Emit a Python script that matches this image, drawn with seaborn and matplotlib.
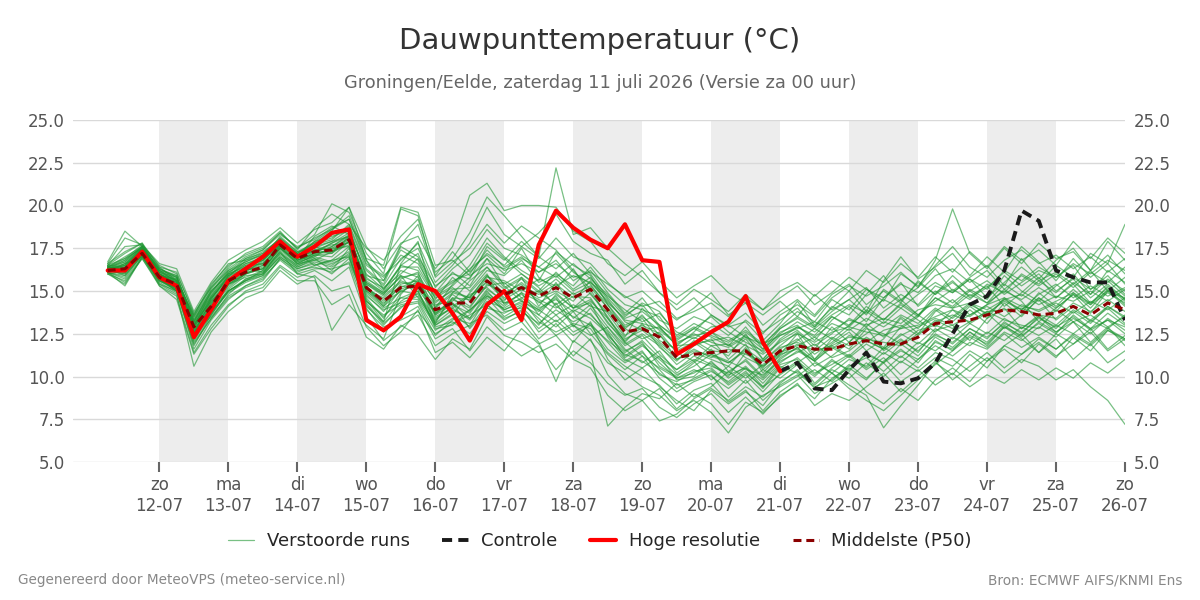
import numpy as np
import pandas as pd
import matplotlib
matplotlib.use('Agg')
import matplotlib.pyplot as plt
from matplotlib.lines import Line2D
from matplotlib.ticker import FormatStrFormatter
import seaborn as sns

# 6-hourly forecast steps
times = pd.date_range('2026-07-11 06:00', periods=60, freq='6h')

# Hoge resolutie (first 40 steps)
hres = [16.2, 16.2, 17.3, 15.8, 15.3, 12.3, 13.9, 15.6, 16.3, 17.0,
        17.9, 17.0, 17.6, 18.4, 18.6, 13.3, 12.7, 13.5, 15.4, 15.0,
        13.7, 12.1, 14.2, 15.0, 13.3, 17.7, 19.7, 18.7, 18.0, 17.5,
        18.9, 16.8, 16.7, 11.3, 11.9, 12.6, 13.2, 14.7, 12.0, 10.3]

# Controle (continues where hres stops)
control_start = 39
control = [10.3, 10.8, 9.3, 9.2, 10.4, 11.4, 9.7, 9.6, 9.9, 10.8,
           12.5, 14.2, 14.7, 16.2, 19.7, 19.1, 16.2, 15.8, 15.5, 15.5, 13.3]

# Middelste (P50)
median = [16.2, 16.3, 17.2, 15.8, 15.4, 12.9, 14.1, 15.6, 16.1, 16.4,
          17.7, 16.9, 17.3, 17.4, 18.0, 15.2, 14.4, 15.2, 15.3, 13.9,
          14.3, 14.3, 15.6, 14.8, 15.2, 14.7, 15.2, 14.6, 15.1, 13.9,
          12.6, 12.8, 12.3, 11.1, 11.3, 11.4, 11.5, 11.5, 10.7, 11.5,
          11.8, 11.6, 11.6, 11.9, 12.1, 11.9, 11.9, 12.3, 13.1, 13.2,
          13.3, 13.6, 13.9, 13.8, 13.6, 13.7, 14.1, 13.6, 14.3, 13.9]

# Verstoorde runs
members = [
    [16.4, 16.9, 17.5, 16.1, 15.6, 12.5, 14.5, 15.9, 16.6, 17.0, 17.9, 17.2, 17.8, 18.5, 19.9, 16.8, 15.1, 16.5, 17.2, 14.8,
     15.5, 16.2, 17.8, 16.9, 16.0, 15.2, 14.1, 13.5, 13.0, 12.1, 11.3, 10.9, 10.2, 9.5, 9.8, 10.3, 9.7, 10.5, 9.4, 10.1,
     10.8, 11.5, 12.3, 11.8, 12.5, 13.2, 12.8, 13.5, 14.6, 14.1, 15.0, 15.6, 14.8, 15.5, 16.2, 15.8, 16.5, 15.1, 15.9, 14.8],
    [16.1, 15.3, 17.0, 15.5, 14.9, 11.9, 13.4, 14.6, 15.2, 15.6, 16.9, 16.1, 16.5, 16.8, 17.0, 14.0, 12.6, 13.5, 14.1, 12.2,
     12.8, 11.5, 12.9, 12.0, 11.2, 11.8, 10.4, 11.5, 10.8, 9.6, 8.9, 9.3, 8.2, 7.6, 8.4, 9.0, 7.9, 8.8, 7.8, 8.9,
     9.5, 8.7, 9.9, 10.5, 9.8, 10.9, 11.6, 10.8, 12.1, 11.5, 12.6, 11.8, 12.9, 12.2, 11.4, 12.5, 11.9, 12.8, 11.6, 12.4],
    [16.6, 18.1, 17.7, 16.5, 16.0, 13.7, 15.2, 16.4, 17.2, 17.6, 18.5, 17.4, 18.7, 19.5, 18.9, 17.5, 16.8, 18.2, 19.2, 16.1,
     16.9, 18.4, 20.5, 19.4, 18.2, 17.0, 16.3, 17.2, 16.0, 14.6, 13.5, 14.3, 13.8, 12.4, 13.1, 12.6, 11.8, 12.9, 11.6, 12.8,
     13.5, 12.9, 14.1, 13.6, 14.8, 15.9, 14.5, 15.2, 16.3, 15.0, 15.8, 16.5, 15.3, 16.9, 15.7, 16.8, 17.5, 16.2, 17.1, 16.0],
    [16.0, 16.2, 17.4, 15.7, 15.1, 12.2, 14.0, 15.2, 16.0, 16.5, 17.6, 16.6, 17.1, 17.0, 17.9, 15.5, 14.8, 15.9, 14.6, 13.2,
     14.6, 13.8, 15.1, 14.4, 15.8, 14.1, 15.5, 14.0, 14.9, 13.5, 12.0, 13.1, 11.7, 10.9, 11.8, 12.2, 11.0, 11.9, 10.2, 11.3,
     12.5, 11.0, 11.9, 12.6, 11.5, 12.2, 13.4, 12.5, 13.8, 14.5, 13.6, 14.2, 15.1, 14.4, 13.2, 14.0, 14.8, 13.7, 15.0, 14.1],
    [16.3, 15.9, 17.1, 15.3, 14.5, 11.3, 12.8, 14.1, 15.0, 15.4, 16.5, 15.8, 16.2, 15.6, 16.4, 13.5, 12.1, 12.9, 13.6, 11.8,
     12.5, 13.0, 14.6, 13.5, 14.1, 13.0, 14.3, 12.9, 14.0, 12.7, 11.5, 12.0, 10.6, 10.0, 10.8, 11.6, 10.3, 10.9, 9.9, 11.0,
     11.7, 10.6, 11.2, 12.0, 12.9, 11.5, 12.2, 11.4, 12.7, 13.0, 12.1, 13.4, 14.0, 12.8, 13.5, 12.6, 13.2, 12.0, 12.9, 11.8],
    [16.2, 16.5, 17.6, 16.3, 15.8, 13.3, 14.8, 16.1, 16.6, 16.9, 18.2, 17.3, 17.5, 17.9, 18.6, 15.9, 15.6, 17.4, 16.8, 14.5,
     15.8, 15.0, 16.2, 15.9, 16.8, 15.5, 16.0, 15.3, 16.4, 15.1, 14.2, 13.9, 13.5, 12.1, 12.8, 13.5, 12.6, 12.0, 11.5, 12.6,
     13.0, 12.1, 13.3, 14.1, 13.2, 14.6, 15.5, 14.1, 15.0, 14.3, 15.1, 14.5, 15.9, 15.0, 14.4, 15.3, 16.0, 14.8, 16.2, 15.5],
    [16.4, 16.1, 17.2, 15.9, 15.3, 12.7, 14.3, 15.5, 16.3, 16.1, 17.3, 16.5, 16.9, 16.2, 17.5, 14.6, 13.4, 14.9, 15.6, 13.0,
     13.6, 14.9, 16.0, 14.2, 14.9, 13.6, 12.9, 13.8, 12.5, 11.3, 10.4, 11.2, 9.9, 9.1, 9.7, 10.1, 8.8, 9.8, 8.6, 9.5,
     10.1, 9.0, 9.6, 10.2, 9.1, 8.4, 9.3, 8.6, 9.8, 10.5, 9.7, 10.9, 11.6, 10.8, 11.9, 11.1, 12.3, 11.5, 12.7, 12.1],
    [16.5, 17.2, 17.8, 16.0, 15.5, 13.0, 14.6, 15.8, 16.8, 17.3, 18.0, 16.9, 18.2, 18.8, 18.3, 16.2, 15.3, 16.9, 17.5, 15.2,
     16.3, 17.1, 18.6, 17.5, 17.1, 16.4, 17.2, 16.1, 15.4, 14.0, 12.9, 13.4, 12.1, 11.6, 12.3, 11.8, 11.2, 12.5, 11.0, 12.2,
     12.9, 12.4, 13.5, 13.0, 14.1, 13.3, 14.2, 13.5, 14.9, 15.6, 14.6, 15.2, 16.1, 15.3, 16.0, 15.0, 15.7, 14.6, 15.4, 14.5],
    [16.2, 16.0, 17.3, 15.6, 15.2, 12.5, 13.9, 15.4, 15.8, 16.2, 17.5, 16.7, 17.0, 17.6, 18.2, 14.9, 14.0, 14.6, 15.0, 12.9,
     13.2, 12.5, 13.8, 13.1, 13.6, 12.2, 13.1, 12.0, 13.2, 11.0, 9.8, 10.5, 9.4, 8.6, 8.0, 9.2, 8.4, 9.1, 8.3, 9.6,
     10.4, 9.3, 10.2, 9.5, 8.9, 7.0, 8.3, 9.5, 10.8, 10.1, 11.3, 10.5, 11.8, 12.5, 11.4, 12.2, 11.0, 11.9, 10.8, 11.5],
    [16.1, 16.6, 17.0, 15.9, 15.7, 13.5, 15.0, 16.0, 16.4, 16.8, 17.8, 17.1, 17.6, 17.3, 18.1, 15.6, 14.9, 16.2, 15.8, 14.4,
     15.0, 14.6, 15.9, 14.8, 15.5, 14.6, 15.0, 14.4, 15.6, 14.3, 13.4, 13.8, 13.0, 12.3, 12.9, 12.4, 12.0, 12.6, 11.8, 12.9,
     13.8, 13.2, 14.5, 13.9, 15.1, 14.4, 16.0, 15.3, 16.5, 17.6, 16.4, 15.8, 16.8, 17.4, 16.6, 17.1, 16.3, 17.0, 16.1, 16.9],
    [16.3, 16.4, 17.4, 15.4, 15.0, 11.8, 13.6, 15.0, 15.6, 16.0, 17.0, 16.3, 16.6, 16.0, 16.9, 14.3, 13.1, 14.0, 14.9, 13.4,
     14.0, 13.3, 14.4, 14.0, 14.6, 13.9, 14.7, 13.4, 14.2, 12.9, 11.8, 12.4, 11.3, 10.4, 11.2, 10.7, 10.0, 11.4, 10.5, 11.6,
     12.2, 11.3, 12.0, 12.8, 12.0, 12.7, 13.0, 12.4, 13.3, 12.8, 13.9, 13.1, 14.3, 13.5, 14.6, 13.8, 14.9, 14.0, 15.1, 14.2],
    [16.7, 18.5, 17.6, 16.2, 15.9, 13.2, 15.1, 16.3, 17.0, 17.4, 18.4, 17.5, 18.3, 20.1, 19.6, 17.2, 16.0, 19.8, 19.4, 15.9,
     17.3, 16.1, 17.2, 16.5, 17.6, 16.9, 18.1, 17.0, 16.6, 15.5, 14.6, 15.0, 14.1, 13.3, 14.0, 14.9, 13.6, 14.3, 13.0, 13.8,
     14.5, 13.6, 14.8, 15.4, 14.2, 15.0, 14.3, 15.6, 14.8, 15.5, 14.7, 15.3, 14.1, 14.9, 15.8, 14.6, 15.4, 14.3, 15.2, 14.4],
    [16.2, 16.3, 17.2, 15.8, 15.3, 12.9, 14.2, 15.6, 16.2, 16.5, 17.7, 17.0, 17.4, 17.7, 17.8, 15.1, 14.6, 15.5, 15.3, 14.0,
     14.8, 14.1, 15.3, 15.5, 14.6, 15.0, 14.2, 14.9, 14.1, 13.8, 12.8, 12.2, 12.6, 11.4, 10.9, 11.8, 11.9, 11.1, 10.6, 11.4,
     11.8, 12.3, 11.6, 12.4, 12.1, 11.6, 12.4, 12.9, 13.4, 13.0, 13.6, 14.1, 13.5, 14.2, 13.8, 14.3, 13.7, 14.4, 13.9, 14.6],
    [16.0, 15.6, 16.9, 15.4, 14.8, 10.6, 12.6, 13.8, 14.6, 15.0, 16.2, 15.4, 15.9, 15.0, 15.3, 12.9, 11.8, 12.6, 13.9, 11.4,
     12.0, 11.1, 12.3, 11.5, 12.8, 11.9, 12.4, 11.2, 12.2, 10.1, 9.0, 8.6, 9.3, 8.1, 9.0, 8.4, 7.2, 8.5, 7.9, 8.8,
     9.6, 8.3, 9.0, 8.6, 9.4, 10.2, 9.1, 10.0, 10.9, 9.8, 10.6, 11.4, 10.5, 11.3, 12.0, 11.2, 11.9, 12.6, 11.5, 12.2],
    [16.4, 16.2, 17.5, 16.0, 15.4, 13.1, 14.4, 15.7, 16.2, 16.7, 17.9, 16.8, 17.2, 17.8, 18.4, 15.3, 14.2, 15.7, 16.1, 13.6,
     14.6, 14.5, 15.6, 14.6, 15.3, 14.8, 15.4, 14.6, 15.2, 14.0, 12.4, 13.0, 12.5, 11.0, 11.6, 11.1, 11.6, 11.3, 10.9, 11.7,
     12.0, 11.5, 11.8, 12.3, 12.2, 12.0, 11.8, 12.5, 13.2, 13.6, 13.2, 13.8, 13.9, 14.0, 13.6, 13.4, 14.3, 13.8, 14.5, 13.8],
    [16.3, 16.8, 17.6, 16.3, 15.9, 12.9, 15.0, 16.0, 16.9, 17.2, 18.1, 17.2, 17.7, 18.0, 18.9, 16.5, 15.8, 17.1, 16.6, 14.9,
     16.1, 15.3, 16.9, 16.0, 17.5, 15.8, 15.1, 16.3, 14.8, 13.7, 12.3, 14.0, 12.9, 11.8, 12.6, 13.6, 12.9, 13.2, 12.1, 13.1,
     14.4, 13.0, 14.0, 15.0, 13.8, 15.6, 17.0, 15.7, 16.4, 17.2, 15.9, 17.0, 16.1, 17.6, 16.7, 15.6, 16.9, 15.8, 16.6, 15.4],
    [16.1, 15.8, 17.1, 15.7, 15.0, 12.3, 13.8, 14.9, 15.5, 15.9, 17.1, 16.4, 16.8, 16.5, 17.2, 14.7, 13.9, 14.3, 14.7, 13.1,
     13.9, 13.4, 14.9, 14.1, 14.9, 14.4, 13.6, 14.2, 13.6, 12.6, 11.1, 11.8, 11.0, 10.1, 10.6, 11.3, 10.9, 10.4, 10.1, 10.9,
     11.4, 11.9, 11.1, 11.5, 12.3, 11.7, 12.9, 13.6, 12.9, 13.9, 13.1, 13.7, 12.8, 13.6, 14.5, 13.3, 14.1, 13.2, 14.0, 13.1],
    [16.5, 16.9, 17.7, 16.4, 15.6, 13.4, 14.9, 16.2, 16.9, 17.4, 18.3, 17.6, 18.0, 18.7, 19.2, 16.6, 15.9, 16.8, 17.8, 15.5,
     16.5, 17.8, 19.9, 18.3, 17.6, 18.4, 19.5, 17.9, 17.2, 16.8, 15.4, 16.2, 14.9, 14.2, 15.1, 14.5, 13.8, 14.8, 13.9, 14.6,
     15.3, 14.2, 14.9, 15.8, 15.1, 14.6, 15.4, 14.9, 15.9, 16.3, 15.5, 16.2, 15.1, 15.9, 15.3, 16.0, 15.2, 16.1, 15.5, 16.4],
    [16.2, 16.4, 17.3, 15.9, 15.4, 12.7, 14.1, 15.3, 16.0, 16.3, 17.5, 16.6, 17.1, 17.5, 17.6, 15.0, 14.3, 15.0, 14.8, 13.3,
     14.1, 14.8, 15.2, 14.3, 14.5, 13.2, 12.6, 13.1, 12.8, 11.4, 10.6, 10.0, 9.5, 8.4, 9.2, 9.6, 8.5, 9.2, 8.0, 9.1,
     9.8, 10.4, 9.7, 10.6, 11.1, 10.3, 11.2, 10.5, 11.4, 11.0, 10.3, 11.1, 10.2, 11.0, 10.6, 9.8, 10.4, 9.4, 8.6, 7.2],
    [16.3, 16.6, 17.5, 16.2, 15.5, 12.8, 14.6, 15.7, 16.4, 16.6, 17.6, 16.9, 17.4, 17.2, 18.2, 15.4, 14.8, 15.9, 15.5, 14.2,
     14.4, 15.6, 16.4, 15.2, 15.8, 15.0, 16.1, 15.1, 15.8, 14.5, 13.2, 12.7, 12.9, 11.8, 11.9, 12.1, 12.3, 11.8, 11.3, 12.0,
     12.5, 12.0, 12.6, 12.9, 12.6, 12.4, 12.8, 13.0, 13.5, 13.9, 13.5, 14.2, 14.6, 14.1, 13.9, 14.4, 14.9, 14.3, 15.0, 14.6],
    [16.0, 15.4, 17.0, 15.6, 15.1, 11.6, 13.3, 14.5, 15.3, 15.8, 16.8, 16.0, 16.3, 16.3, 16.6, 13.9, 12.9, 13.3, 13.8, 12.5,
     13.1, 13.6, 14.2, 13.3, 13.9, 12.8, 13.6, 12.6, 13.1, 12.0, 10.9, 11.5, 10.1, 9.7, 10.3, 10.5, 9.6, 10.3, 9.3, 10.5,
     11.1, 10.2, 10.7, 11.3, 10.5, 11.4, 10.8, 11.7, 12.4, 12.0, 12.8, 12.3, 13.1, 12.6, 13.4, 12.9, 13.5, 12.7, 13.3, 12.9],
    [16.4, 16.7, 17.6, 16.1, 15.6, 13.6, 15.3, 16.6, 16.8, 17.1, 18.0, 17.0, 17.9, 18.2, 18.5, 16.0, 15.1, 16.4, 16.4, 14.7,
     15.3, 16.3, 17.1, 16.2, 16.6, 16.1, 16.8, 15.6, 16.2, 14.9, 13.7, 14.6, 13.3, 12.8, 13.5, 13.1, 12.4, 13.3, 12.5, 13.6,
     14.2, 13.5, 14.6, 15.3, 14.7, 15.3, 16.1, 15.2, 16.8, 19.8, 17.2, 16.3, 17.5, 16.6, 17.8, 16.9, 17.3, 16.2, 17.9, 16.8],
    [16.2, 16.0, 17.1, 15.8, 15.2, 12.4, 13.7, 15.1, 15.9, 16.0, 17.4, 16.6, 16.8, 17.3, 17.7, 14.8, 13.8, 15.1, 15.5, 13.8,
     14.3, 12.8, 14.0, 13.7, 14.2, 13.6, 14.8, 14.0, 14.5, 13.2, 11.9, 12.5, 11.8, 10.7, 11.4, 11.0, 10.6, 11.7, 10.4, 11.2,
     11.9, 11.0, 12.2, 11.6, 12.8, 12.5, 11.9, 12.7, 13.0, 12.6, 13.2, 13.8, 13.3, 13.0, 12.8, 13.9, 13.2, 13.6, 12.9, 13.5],
    [16.3, 16.5, 17.3, 16.0, 15.5, 13.0, 14.4, 15.5, 16.1, 16.8, 17.8, 16.8, 17.3, 17.6, 18.3, 15.2, 14.5, 15.3, 15.1, 13.7,
     14.5, 14.0, 15.4, 14.9, 15.4, 14.3, 14.9, 14.0, 14.3, 12.3, 11.0, 10.5, 11.2, 9.8, 10.0, 10.9, 9.9, 10.6, 9.6, 10.7,
     11.0, 9.6, 10.5, 11.2, 10.4, 11.1, 10.1, 11.0, 11.8, 11.2, 12.0, 11.6, 12.5, 11.7, 12.3, 11.6, 12.4, 11.8, 12.7, 12.2],
    [16.5, 17.6, 17.7, 16.6, 16.3, 13.8, 15.5, 16.8, 17.4, 17.9, 18.7, 17.8, 18.6, 19.0, 19.9, 17.6, 16.3, 17.8, 18.2, 16.3,
     17.6, 20.6, 21.3, 19.7, 20.0, 20.0, 19.9, 18.5, 17.9, 16.6, 15.9, 16.7, 15.6, 14.6, 15.3, 15.9, 14.9, 14.3, 13.6, 14.4,
     13.5, 14.8, 13.9, 14.5, 15.2, 14.0, 14.8, 14.2, 15.3, 14.9, 15.7, 14.6, 15.5, 16.4, 15.6, 16.1, 15.4, 16.2, 15.0, 15.8],
    [16.1, 15.7, 17.0, 15.6, 15.2, 12.6, 13.5, 14.7, 15.3, 15.7, 16.9, 16.2, 16.4, 16.1, 16.7, 14.4, 13.6, 14.2, 14.4, 12.7,
     13.4, 13.1, 13.6, 12.7, 13.2, 12.0, 9.7, 12.1, 11.4, 7.1, 8.2, 9.0, 8.7, 9.6, 8.8, 9.4, 10.3, 9.6, 10.4, 9.9,
     10.7, 10.0, 10.9, 10.4, 11.3, 10.8, 11.5, 11.0, 12.0, 11.6, 12.4, 11.9, 12.9, 12.4, 13.1, 12.5, 13.6, 12.8, 13.3, 12.5],
    [16.4, 16.3, 17.4, 16.0, 15.3, 13.2, 14.7, 16.0, 16.5, 16.6, 17.7, 17.1, 17.6, 18.3, 18.7, 15.8, 15.0, 16.5, 16.2, 14.6,
     15.2, 14.4, 15.8, 15.6, 15.0, 15.7, 15.3, 15.9, 15.5, 14.7, 13.9, 13.2, 13.7, 12.6, 12.2, 12.9, 13.0, 12.3, 11.9, 12.4,
     12.8, 13.2, 12.7, 13.3, 13.0, 13.4, 13.1, 13.9, 14.2, 14.0, 14.3, 13.9, 14.5, 14.8, 14.2, 14.7, 14.4, 15.0, 14.4, 15.1],
    [16.2, 16.1, 17.2, 15.7, 15.0, 12.5, 14.0, 15.4, 16.0, 16.3, 17.5, 16.7, 17.2, 17.3, 17.9, 15.0, 14.1, 15.4, 15.6, 13.5,
     14.0, 14.7, 15.5, 14.5, 15.1, 14.5, 14.0, 14.7, 14.6, 13.1, 12.1, 12.9, 12.0, 11.2, 12.1, 11.5, 11.4, 12.2, 11.0, 12.1,
     12.7, 11.8, 12.5, 13.4, 12.9, 13.8, 14.5, 13.6, 14.4, 15.1, 14.5, 15.4, 14.9, 16.0, 15.4, 16.5, 15.8, 17.2, 16.6, 18.9],
    [16.3, 16.2, 17.3, 15.8, 15.4, 12.0, 13.4, 14.8, 15.7, 16.1, 17.2, 16.5, 17.0, 16.7, 17.3, 14.5, 13.2, 14.4, 15.0, 12.8,
     13.0, 13.9, 14.7, 13.9, 14.3, 13.4, 12.4, 13.0, 12.1, 10.8, 10.2, 9.4, 8.9, 8.0, 8.6, 7.9, 6.7, 8.2, 8.9, 9.4,
     10.0, 10.8, 10.2, 11.0, 10.6, 11.7, 11.1, 12.0, 11.5, 12.3, 11.8, 12.6, 12.1, 12.9, 12.4, 13.0, 12.5, 13.3, 12.8, 13.6],
    [16.4, 16.8, 17.6, 16.2, 15.7, 13.5, 15.2, 16.2, 16.7, 17.1, 18.1, 17.3, 17.8, 18.1, 18.8, 16.3, 15.4, 17.6, 17.0, 15.3,
     16.0, 15.7, 17.6, 16.8, 17.9, 17.0, 22.2, 18.3, 18.7, 17.5, 16.6, 15.8, 14.9, 13.9, 14.6, 13.6, 13.0, 13.7, 12.6, 13.3,
     14.0, 12.9, 13.8, 14.5, 13.6, 15.1, 14.4, 15.5, 14.8, 15.9, 15.0, 14.3, 15.4, 14.7, 15.6, 14.9, 15.8, 15.1, 15.6, 14.7],
    [16.2, 16.6, 17.4, 16.0, 15.4, 12.8, 14.0, 15.0, 15.6, 16.2, 17.3, 16.0, 15.8, 12.7, 14.2, 13.0, 12.2, 14.8, 15.9, 13.1,
     14.9, 15.8, 16.9, 15.3, 14.4, 13.8, 14.6, 13.0, 12.4, 12.9, 11.6, 10.8, 11.5, 10.2, 10.9, 9.8, 10.6, 9.9, 10.7, 11.4,
     12.1, 12.8, 12.2, 13.0, 13.8, 13.1, 14.0, 13.3, 12.6, 13.5, 14.3, 13.6, 14.5, 13.9, 14.8, 15.4, 14.6, 15.3, 14.7, 15.2],
    [16.5, 16.4, 17.5, 16.1, 15.8, 13.2, 14.7, 15.9, 16.5, 17.0, 17.8, 17.2, 16.5, 16.8, 17.6, 14.1, 13.2, 16.6, 17.9, 14.0,
     15.4, 16.5, 18.1, 17.0, 16.2, 15.6, 17.3, 16.5, 15.9, 14.2, 12.8, 13.6, 12.4, 11.5, 12.0, 11.3, 10.8, 11.6, 10.9, 11.8,
     12.6, 11.6, 12.9, 12.0, 13.1, 12.3, 13.5, 12.8, 13.9, 13.2, 14.1, 13.4, 14.6, 13.7, 14.9, 14.1, 15.1, 14.2, 15.3, 14.5],
    [16.1, 15.5, 16.9, 15.3, 14.7, 11.4, 13.0, 14.2, 14.9, 15.2, 16.4, 15.6, 15.6, 14.2, 14.8, 12.3, 11.6, 13.0, 12.4, 11.0,
     12.2, 11.6, 13.5, 12.4, 12.0, 11.4, 11.9, 11.0, 10.5, 8.9, 8.0, 8.6, 7.4, 7.8, 8.7, 9.3, 8.6, 9.4, 8.8, 9.7,
     10.3, 9.5, 10.4, 9.9, 10.8, 10.0, 10.9, 10.3, 11.1, 10.6, 11.5, 10.9, 11.8, 11.3, 12.2, 11.6, 12.5, 11.9, 12.8, 12.2],
    [16.3, 16.7, 17.5, 16.2, 15.6, 13.0, 14.5, 15.9, 16.3, 16.9, 17.7, 17.0, 17.6, 17.9, 18.2, 15.7, 15.2, 16.0, 16.9, 14.9,
     15.6, 16.0, 17.4, 16.4, 17.0, 16.1, 16.6, 15.8, 16.1, 15.4, 14.7, 14.1, 14.4, 13.4, 13.8, 14.3, 13.5, 14.6, 13.9, 15.0,
     15.5, 14.7, 15.6, 15.0, 16.2, 15.5, 16.6, 15.8, 17.0, 16.1, 17.3, 16.4, 17.6, 16.8, 17.4, 16.5, 17.9, 16.9, 18.1, 17.2],
    [16.2, 16.3, 17.3, 15.9, 15.3, 12.6, 14.2, 15.4, 16.0, 16.4, 17.6, 16.8, 17.2, 17.4, 18.0, 15.1, 14.4, 15.2, 15.7, 13.6,
     14.2, 13.7, 15.0, 13.9, 14.4, 13.9, 13.2, 13.9, 13.4, 12.5, 11.2, 11.9, 10.8, 9.9, 10.4, 10.0, 9.3, 10.1, 9.1, 10.2,
     10.9, 10.1, 11.0, 10.3, 11.4, 10.8, 11.9, 11.2, 12.3, 11.7, 12.6, 12.0, 13.0, 12.3, 13.2, 12.6, 13.4, 12.8, 13.7, 13.0],
    [16.4, 17.0, 17.6, 16.3, 15.8, 13.3, 14.9, 16.1, 16.7, 17.2, 18.0, 17.2, 17.9, 18.6, 19.4, 16.9, 16.5, 19.9, 19.6, 16.5,
     16.8, 15.9, 16.6, 16.3, 16.9, 16.4, 15.8, 16.6, 15.7, 14.8, 13.6, 14.2, 13.0, 12.2, 12.8, 12.3, 11.8, 12.4, 11.6, 12.5,
     13.2, 12.6, 13.5, 12.9, 13.9, 13.3, 14.3, 13.6, 14.6, 14.0, 14.8, 14.3, 15.0, 14.5, 15.2, 14.6, 15.5, 14.8, 15.7, 15.0],
    [16.2, 16.1, 17.2, 15.6, 15.0, 12.1, 13.6, 15.0, 15.7, 16.0, 17.2, 16.4, 16.9, 16.6, 17.1, 14.2, 13.0, 14.1, 14.3, 12.4,
     13.3, 13.9, 14.8, 13.8, 14.0, 12.6, 13.3, 12.4, 13.0, 11.6, 10.8, 11.4, 10.4, 9.3, 9.9, 10.4, 9.5, 10.2, 9.4, 10.6,
     10.2, 9.4, 9.8, 10.7, 9.9, 10.8, 9.7, 10.4, 9.5, 10.2, 9.4, 10.1, 9.6, 10.4, 9.8, 10.5, 9.9, 10.8, 10.2, 11.0],
    [16.3, 16.5, 17.4, 15.9, 15.5, 12.9, 14.3, 15.6, 16.2, 16.6, 17.7, 16.9, 17.4, 17.5, 18.1, 15.4, 14.7, 15.6, 15.2, 14.1,
     14.9, 14.6, 15.9, 15.1, 15.7, 14.9, 15.7, 14.8, 15.3, 14.2, 13.0, 13.5, 12.7, 11.9, 12.5, 12.0, 11.7, 12.3, 11.4, 12.4,
     12.9, 12.3, 13.1, 12.7, 13.4, 12.9, 13.6, 13.1, 14.0, 13.4, 14.2, 13.7, 14.4, 13.9, 14.6, 14.0, 14.8, 14.2, 14.9, 14.3],
    [16.2, 16.2, 17.3, 15.8, 15.3, 12.6, 14.1, 15.4, 16.1, 16.3, 17.5, 16.8, 17.1, 17.2, 17.9, 15.2, 14.1, 15.0, 15.4, 13.7,
     14.3, 13.4, 14.7, 14.3, 14.8, 14.0, 14.5, 13.8, 14.4, 13.4, 12.2, 12.7, 11.9, 11.0, 11.5, 11.2, 10.8, 11.5, 10.6, 11.3,
     11.6, 10.9, 10.2, 9.3, 8.6, 8.0, 8.9, 9.8, 10.7, 11.5, 12.3, 11.7, 12.6, 12.1, 12.9, 12.3, 13.2, 12.5, 13.4, 12.7],
    [16.4, 16.3, 17.4, 16.0, 15.6, 13.1, 14.6, 15.8, 16.4, 16.8, 17.8, 17.0, 17.3, 17.8, 18.2, 15.5, 14.9, 15.8, 16.0, 14.3,
     15.1, 15.2, 16.4, 15.4, 16.0, 15.3, 15.9, 15.0, 15.5, 14.4, 13.3, 13.1, 12.8, 12.0, 12.4, 12.6, 12.1, 12.7, 11.9, 12.8,
     13.4, 12.8, 13.6, 14.2, 13.7, 14.5, 14.0, 14.8, 15.5, 14.9, 15.7, 15.1, 16.2, 15.6, 16.4, 15.8, 16.6, 16.0, 16.8, 16.2],
    [16.6, 17.3, 17.8, 16.4, 16.1, 13.6, 15.4, 16.5, 17.1, 17.5, 18.4, 17.5, 18.1, 18.6, 19.2, 16.8, 15.6, 17.7, 18.9, 15.8,
     16.7, 17.5, 18.9, 17.8, 18.8, 18.1, 17.4, 16.2, 15.1, 13.4, 12.0, 11.2, 10.5, 9.9, 10.2, 10.8, 10.1, 10.5, 9.8, 10.8,
     11.5, 10.9, 11.8, 11.2, 12.1, 11.6, 12.5, 11.9, 12.8, 12.2, 13.1, 12.5, 13.4, 12.8, 13.6, 13.0, 13.9, 13.3, 14.1, 13.5],
    [16.1, 15.9, 17.1, 15.7, 15.1, 12.2, 13.7, 15.0, 15.6, 15.9, 17.0, 16.3, 16.7, 16.4, 17.0, 14.4, 13.5, 14.6, 14.5, 13.0,
     13.7, 12.9, 14.2, 13.4, 13.8, 13.1, 13.9, 13.2, 13.7, 12.4, 11.4, 12.1, 11.1, 10.4, 11.0, 10.6, 10.2, 11.0, 10.0, 11.1,
     11.7, 10.9, 11.7, 11.1, 11.9, 11.3, 12.1, 11.5, 12.5, 11.9, 12.8, 12.2, 13.2, 12.5, 13.5, 12.8, 13.8, 13.1, 14.1, 13.4],
]

day_names = ['zo', 'ma', 'di', 'wo', 'do', 'vr', 'za', 'zo', 'ma', 'di', 'wo', 'do', 'vr', 'za', 'zo']
day_dates = ['12-07', '13-07', '14-07', '15-07', '16-07', '17-07', '18-07', '19-07',
             '20-07', '21-07', '22-07', '23-07', '24-07', '25-07', '26-07']

sns.set_theme(style='white')
plt.rcParams['font.family'] = ['DejaVu Sans']

fig, ax = plt.subplots(figsize=(12, 6), dpi=100)
fig.subplots_adjust(left=0.061, right=0.9375, top=0.8, bottom=0.23)

# alternating day shading
day_ticks = pd.date_range('2026-07-12', '2026-07-26', freq='D')
for d in day_ticks[:-1:2]:
    ax.axvspan(d, d + pd.Timedelta(days=1), color='#ededed', lw=0, zorder=0)

ens = pd.DataFrame({
    'time': np.tile(times, len(members)),
    'value': np.concatenate(members),
    'member': np.repeat(np.arange(len(members)), len(times)),
})
ens_color = '#1e9632'
sns.lineplot(data=ens, x='time', y='value', units='member', estimator=None,
             color=ens_color, lw=0.9, alpha=0.6, ax=ax, legend=False)

dash = (0, (2.6, 1.6))
sns.lineplot(x=times[control_start:], y=control, color='#1a1a1a', lw=2.8,
             linestyle=dash, ax=ax)
sns.lineplot(x=times[:len(hres)], y=hres, color='#ff0000', lw=3, ax=ax)
sns.lineplot(x=times, y=median, color='#8b0000', lw=2.2, linestyle=dash, ax=ax)

ax.set_xlim(pd.Timestamp('2026-07-10 18:00'), pd.Timestamp('2026-07-26 00:00'))
ax.set_ylim(5, 25)
ax.set_yticks(np.arange(5, 25.1, 2.5))
ax.yaxis.set_major_formatter(FormatStrFormatter('%.1f'))
ax.set_xticks(day_ticks)
ax.set_xticklabels([f'{n}\n{d}' for n, d in zip(day_names, day_dates)])
ax.set_xlabel('')
ax.set_ylabel('')

ax.yaxis.grid(True, color='#d9d9d9', lw=1)
ax.set_axisbelow(True)
for s in ax.spines.values():
    s.set_visible(False)
ax.tick_params(axis='y', left=False, right=False, length=0, labelleft=True, labelright=True,
               labelsize=12, labelcolor='#555555', pad=6)
ax.tick_params(axis='x', bottom=True, length=7, width=1.5, color='#666666',
               labelsize=12, labelcolor='#555555', pad=3)

fig.suptitle('Dauwpunttemperatuur (°C)', y=1 - 41 / 600, fontsize=21, color='#333333', va='center')
fig.text(0.5, 1 - 83 / 600, 'Groningen/Eelde, zaterdag 11 juli 2026 (Versie za 00 uur)',
         ha='center', va='center', fontsize=12.8, color='#666666')

handles = [
    Line2D([], [], color=ens_color, lw=0.9, alpha=0.6),
    Line2D([], [], color='#1a1a1a', lw=2.8, linestyle=dash),
    Line2D([], [], color='#ff0000', lw=3),
    Line2D([], [], color='#8b0000', lw=2.2, linestyle=dash),
]
labels = ['Verstoorde runs', 'Controle', 'Hoge resolutie', 'Middelste (P50)']
fig.legend(handles, labels, loc='center', bbox_to_anchor=(0.5, 1 - 541 / 600), ncol=4,
           frameon=False, fontsize=13, handlelength=1.45, columnspacing=1.8, handletextpad=0.7)

fig.text(18 / 1200, 1 - 580 / 600, 'Gegenereerd door MeteoVPS (meteo-service.nl)',
         ha='left', va='center', fontsize=9.8, color='#888888')
fig.text(1182 / 1200, 1 - 580 / 600, 'Bron: ECMWF AIFS/KNMI Ens',
         ha='right', va='center', fontsize=9.8, color='#888888')

fig.savefig('out.png', dpi=100)
